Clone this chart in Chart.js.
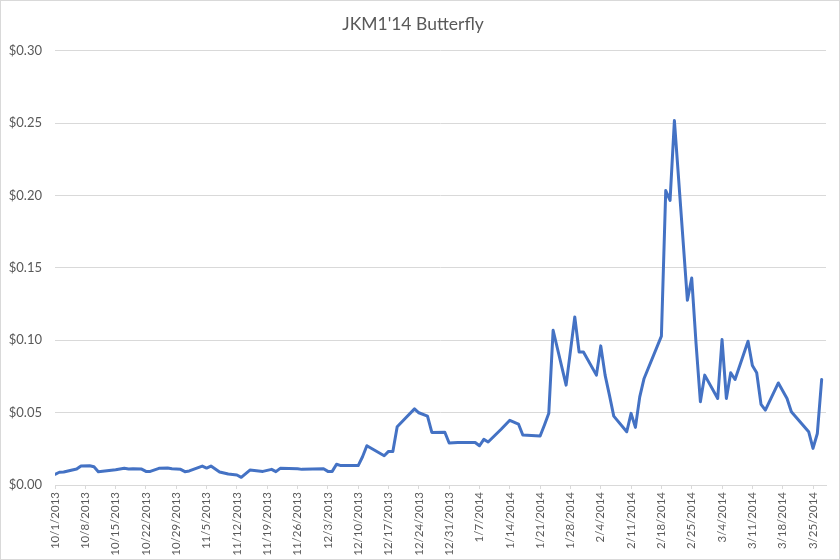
<!DOCTYPE html>
<html>
<head>
<meta charset="utf-8">
<script src="https://cdn.jsdelivr.net/npm/chart.js@4.4.0/dist/chart.umd.min.js"></script>
<style>
  html, body { margin: 0; padding: 0; background: #ffffff; }
  #wrap { width: 840px; height: 560px; position: relative; }
</style>
</head>
<body>
<div id="wrap"><canvas id="c" width="840" height="560"></canvas></div>
<script>
const chartTitle = "JKM1'14 Butterfly";

const dates = [
  '10/1/2013','10/2/2013','10/3/2013','10/4/2013','10/6/2013','10/7/2013','10/9/2013','10/10/2013','10/11/2013',
  '10/13/2013','10/15/2013','10/16/2013','10/17/2013','10/18/2013','10/19/2013','10/21/2013','10/22/2013','10/23/2013',
  '10/25/2013','10/27/2013','10/28/2013','10/30/2013','10/31/2013','11/1/2013','11/4/2013','11/5/2013','11/6/2013',
  '11/8/2013','11/10/2013','11/12/2013','11/13/2013','11/15/2013','11/18/2013','11/20/2013','11/21/2013','11/22/2013',
  '11/26/2013','11/27/2013','12/2/2013','12/3/2013','12/4/2013','12/5/2013','12/6/2013','12/10/2013','12/11/2013',
  '12/12/2013','12/16/2013','12/17/2013','12/18/2013','12/19/2013','12/21/2013','12/23/2013','12/24/2013','12/26/2013',
  '12/27/2013','12/30/2013','12/31/2013','1/2/2014','1/6/2014','1/7/2014','1/8/2014','1/9/2014','1/12/2014',
  '1/14/2014','1/16/2014','1/17/2014','1/21/2014','1/22/2014','1/23/2014','1/24/2014','1/27/2014','1/29/2014',
  '1/30/2014','1/31/2014','2/3/2014','2/4/2014','2/5/2014','2/6/2014','2/7/2014','2/10/2014','2/11/2014',
  '2/12/2014','2/13/2014','2/14/2014','2/18/2014','2/19/2014','2/20/2014','2/21/2014','2/24/2014','2/25/2014',
  '2/26/2014','2/27/2014','2/28/2014','3/3/2014','3/4/2014','3/5/2014','3/6/2014','3/7/2014','3/10/2014',
  '3/11/2014','3/12/2014','3/13/2014','3/14/2014','3/17/2014','3/19/2014','3/20/2014','3/24/2014','3/25/2014',
  '3/26/2014','3/27/2014'
];

const butterfly = [
  0.0074,0.0088,0.0090,0.0097,0.0110,0.0131,0.0133,0.0126,0.0092,
  0.0099,0.0105,0.0110,0.0115,0.0110,0.0112,0.0110,0.0094,0.0094,
  0.0115,0.0117,0.0112,0.0108,0.0092,0.0097,0.0131,0.0117,0.0131,
  0.0090,0.0076,0.0069,0.0053,0.0103,0.0094,0.0108,0.0092,0.0115,
  0.0112,0.0108,0.0112,0.0094,0.0094,0.0143,0.0134,0.0134,0.0195,
  0.0271,0.0202,0.0232,0.0232,0.0402,0.0464,0.0526,0.0499,0.0476,
  0.0363,0.0364,0.0290,0.0294,0.0294,0.0271,0.0315,0.0297,0.0385,
  0.0447,0.0421,0.0345,0.0338,0.0414,0.0495,0.1069,0.0690,0.1161,
  0.0919,0.0919,0.0759,0.0961,0.0759,0.0621,0.0476,0.0368,0.0495,
  0.0398,0.0609,0.0736,0.1028,0.2034,0.1966,0.2517,0.1276,0.1430,
  0.0977,0.0575,0.0759,0.0598,0.1005,0.0598,0.0775,0.0729,0.0993,
  0.0825,0.0775,0.0557,0.0517,0.0705,0.0598,0.0506,0.0368,0.0253,
  0.0356,0.0729
];

const xTickLabels = [
  '10/1/2013','10/8/2013','10/15/2013','10/22/2013','10/29/2013','11/5/2013','11/12/2013',
  '11/19/2013','11/26/2013','12/3/2013','12/10/2013','12/17/2013','12/24/2013','12/31/2013',
  '1/7/2014','1/14/2014','1/21/2014','1/28/2014','2/4/2014','2/11/2014','2/18/2014',
  '2/25/2014','3/4/2014','3/11/2014','3/18/2014','3/25/2014'
];

const yTickValues = [0, 0.05, 0.10, 0.15, 0.20, 0.25, 0.30];

const startDate = '10/1/2013';
const endDate = '3/28/2014';

function dayIndex(s) {
  const p = s.split('/').map(Number);
  const b = startDate.split('/').map(Number);
  return Math.round((Date.UTC(p[2], p[0] - 1, p[1]) - Date.UTC(b[2], b[0] - 1, b[1])) / 86400000);
}

const points = dates.map((d, i) => ({ x: dayIndex(d), y: butterfly[i] }));
const labelByDay = {};
xTickLabels.forEach(l => { labelByDay[dayIndex(l)] = l; });

const textColor = '#595959';
const gridColor = '#d9d9d9';
const fontFamily = 'Lato, "Open Sans", "Liberation Sans", sans-serif';

const borderPlugin = {
  id: 'outerBorder',
  afterDraw(chart) {
    const ctx = chart.ctx;
    ctx.save();
    ctx.strokeStyle = '#d9d9d9';
    ctx.lineWidth = 1;
    ctx.strokeRect(0.5, 0.5, chart.width - 1, chart.height - 1);
    ctx.restore();
  }
};

new Chart(document.getElementById('c'), {
  type: 'line',
  data: {
    datasets: [{
      label: chartTitle,
      data: points,
      borderColor: '#4472C4',
      backgroundColor: '#4472C4',
      borderWidth: 3,
      pointRadius: 0,
      tension: 0,
      borderJoinStyle: 'round',
      borderCapStyle: 'round',
      fill: false
    }]
  },
  options: {
    responsive: false,
    animation: false,
    devicePixelRatio: 1,
    layout: { padding: { left: 0, right: 14, top: 0, bottom: 0 } },
    plugins: {
      legend: { display: false },
      tooltip: { enabled: false },
      title: {
        display: true,
        text: chartTitle,
        color: textColor,
        font: { family: fontFamily, size: 17.5, weight: 'normal' },
        padding: { top: 14, bottom: 15.7 }
      }
    },
    scales: {
      x: {
        type: 'linear',
        min: dayIndex(startDate),
        max: dayIndex(endDate),
        afterBuildTicks: s => { s.ticks = xTickLabels.map(l => ({ value: dayIndex(l) })); },
        afterFit: s => { s.height = 75; },
        grid: { display: true, drawOnChartArea: false, drawTicks: true, tickLength: 4, color: gridColor },
        border: { display: true, color: gridColor, width: 1 },
        ticks: {
          autoSkip: false,
          minRotation: 90,
          maxRotation: 90,
          padding: 3,
          color: textColor,
          font: { family: fontFamily, size: 11.5 },
          callback: v => labelByDay[v] || ''
        }
      },
      y: {
        min: 0,
        max: 0.30,
        afterBuildTicks: s => { s.ticks = yTickValues.map(v => ({ value: v })); },
        afterFit: s => { s.width = 55; },
        grid: { color: gridColor, drawTicks: false, lineWidth: 1 },
        border: { display: false },
        ticks: {
          padding: 13,
          color: textColor,
          font: { family: fontFamily, size: 13 },
          callback: v => '$' + Number(v).toFixed(2)
        }
      }
    }
  },
  plugins: [borderPlugin]
});
</script>
</body>
</html>
